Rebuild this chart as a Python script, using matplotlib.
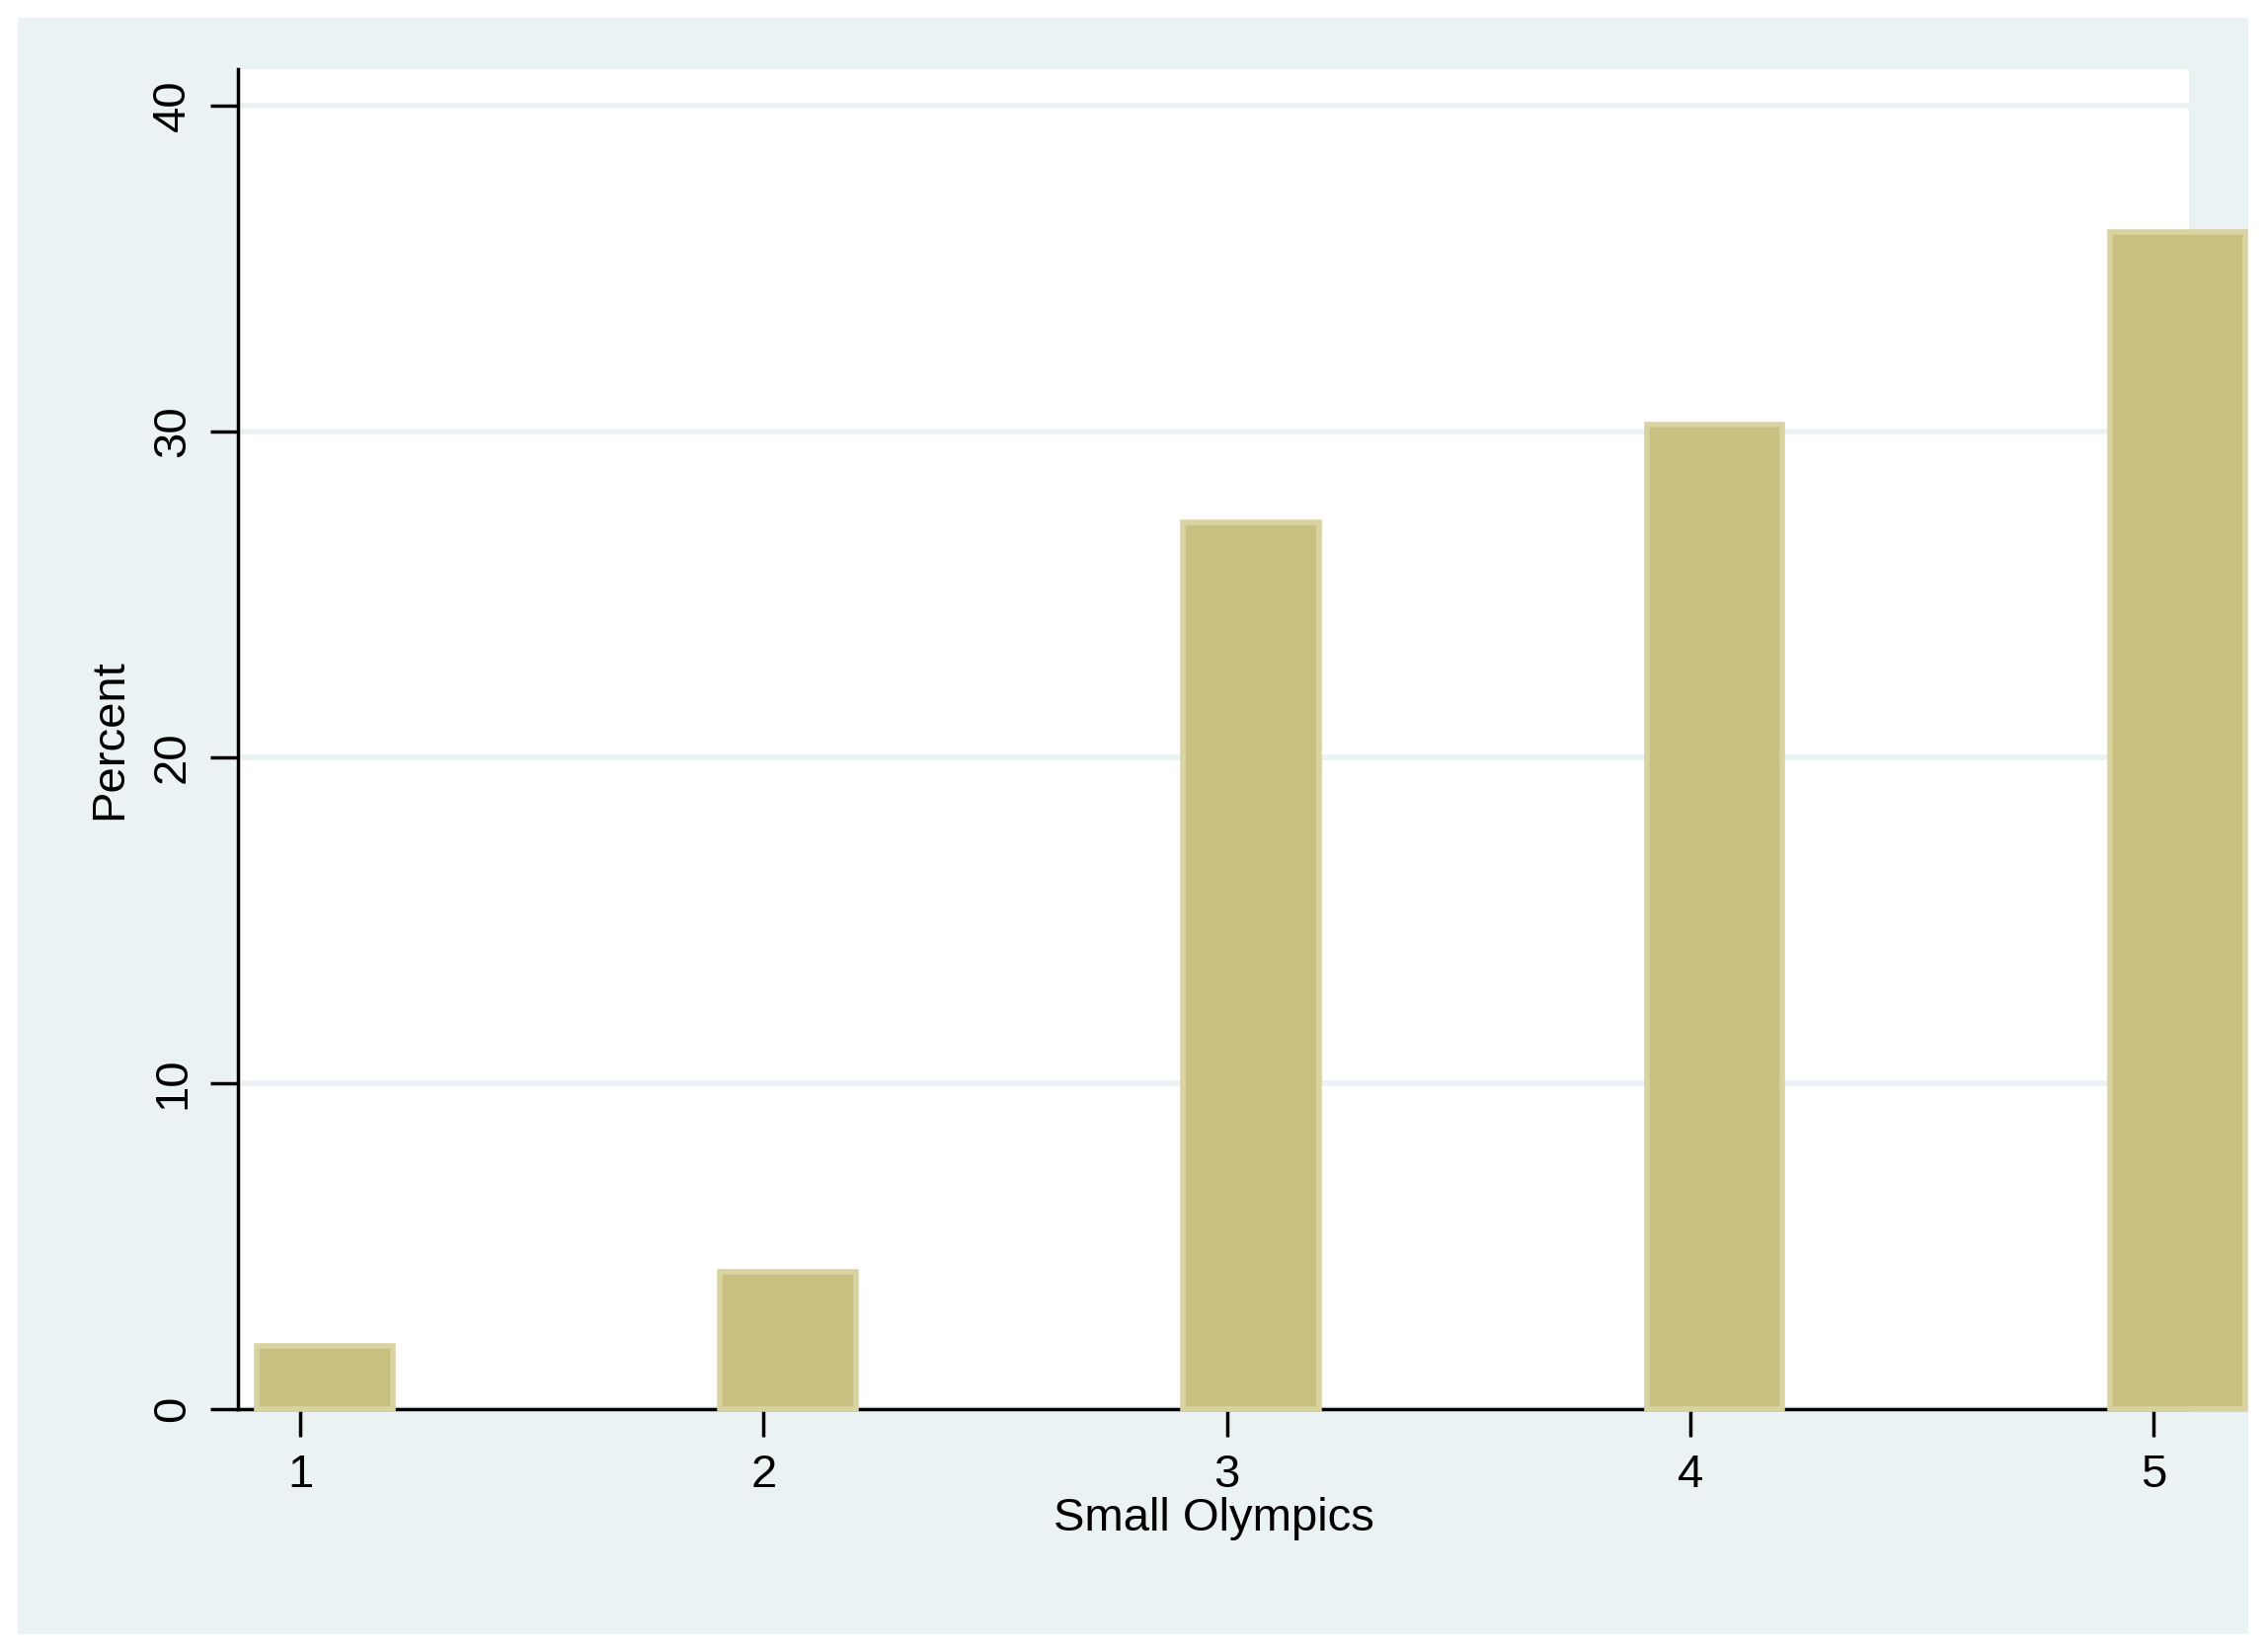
import matplotlib
matplotlib.use("Agg")
import matplotlib.pyplot as plt
from matplotlib.patches import Rectangle

categories = [1, 2, 3, 4, 5]
percent = [1.95, 4.2, 27.2, 30.2, 36.1]
yticks = [0, 10, 20, 30, 40]

plt.rcParams['font.family'] = ['Liberation Sans', 'DejaVu Sans']
fig = plt.figure(figsize=(22.95, 16.73), dpi=100, facecolor='white')
fig.patches.append(Rectangle((0.008, 0.011), 0.984, 0.978, transform=fig.transFigure,
                             facecolor='#eaf2f3', edgecolor='none', zorder=-10))
ax = fig.add_axes([0.1052, 0.147, 0.861, 0.811])
ax.set_zorder(5)
ax.set_facecolor('white')
ax.bar([c - 0.094 for c in categories], percent, width=0.293, align='edge',
       color='#c8c080', edgecolor='#d8d3a0', linewidth=4, zorder=3, clip_on=False)
ax.set_xlim(0.866, 5.078)
ax.set_ylim(0, 41.1)
ax.set_yticks(yticks)
ax.set_xticks(categories)
ax.grid(axis='y', color='#eaf2f3', linewidth=4, zorder=1)
for s in ['top', 'right']:
    ax.spines[s].set_visible(False)
for s in ['left', 'bottom']:
    ax.spines[s].set_linewidth(2.5)
    ax.spines[s].set_color('black')
ax.tick_params(axis='both', labelsize=34, length=20, width=2.5, pad=12)
plt.setp(ax.get_yticklabels(), rotation=90, va='center')
ax.set_ylabel('Percent', fontsize=34, labelpad=14)
ax.set_xlabel('Small Olympics', fontsize=34, labelpad=0)
fig.savefig('out.png', dpi=100, facecolor='white')
